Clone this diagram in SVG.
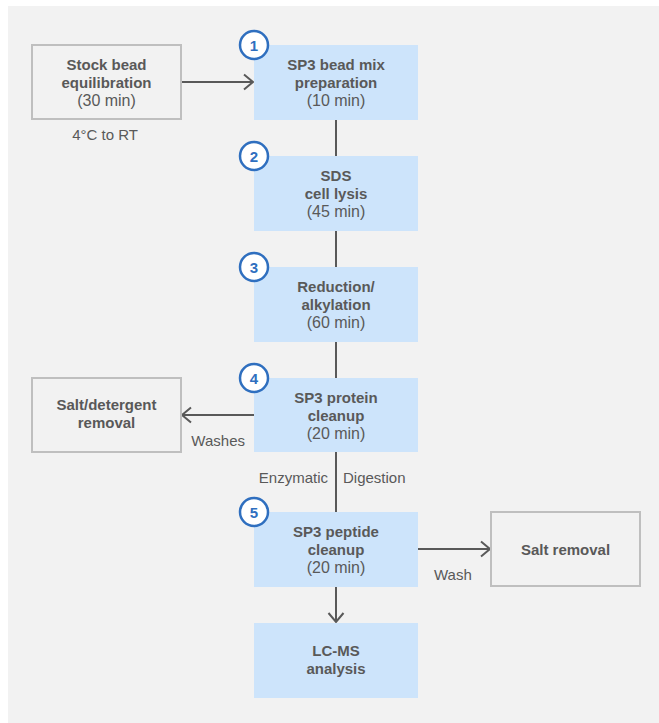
<svg xmlns="http://www.w3.org/2000/svg" width="659" height="723" viewBox="0 0 659 723">
<style>
text{font-family:"Liberation Sans",Arial,sans-serif;fill:#595959;text-anchor:middle}
.b{font-weight:bold;font-size:15px}
.r{font-size:15px}
.t{font-size:16px}
.step{fill:#cde4fb}
.side{fill:#f2f2f2;stroke:#bfbfbf;stroke-width:2}
.num circle{fill:#fff;stroke:#2f6fbf;stroke-width:2.5}
.num text{fill:#2f6fbf;font-weight:bold;font-size:15px}
.conn line{stroke:#595959;stroke-width:2}
</style>
<defs>
<marker id="ah" markerUnits="userSpaceOnUse" viewBox="0 0 12 18" refX="10" refY="9" markerWidth="12" markerHeight="18" orient="auto">
<path d="M1,1.5 L10,9 L1,16.5" fill="none" stroke="#595959" stroke-width="2"/>
</marker>
</defs>
<rect x="8" y="6" width="651" height="717" fill="#f2f2f2"/>
<g class="conn">
<line x1="181" y1="82" x2="253" y2="82" marker-end="url(#ah)"/>
<line x1="336" y1="120" x2="336" y2="156"/>
<line x1="336" y1="231" x2="336" y2="267"/>
<line x1="336" y1="342" x2="336" y2="378"/>
<line x1="336" y1="452" x2="336" y2="512"/>
<line x1="254" y1="415" x2="182" y2="415" marker-end="url(#ah)"/>
<line x1="418" y1="549" x2="490" y2="549" marker-end="url(#ah)"/>
<line x1="336" y1="587" x2="336" y2="622" marker-end="url(#ah)"/>
<text class="r" x="105" y="140">4°C to RT</text>
<text class="r" x="245" y="446" style="text-anchor:end">Washes</text>
<text class="r" x="328" y="483" style="text-anchor:end">Enzymatic</text>
<text class="r" x="343" y="483" style="text-anchor:start">Digestion</text>
<text class="r" x="434" y="580" style="text-anchor:start">Wash</text>
</g>
<g id="stock">
<rect class="side" x="32" y="45" width="149" height="74"/>
<text class="b" x="106.5" y="70">Stock bead</text>
<text class="b" x="106.5" y="88">equilibration</text>
<text class="t" x="106.5" y="106">(30 min)</text>
</g>
<g id="step1">
<rect class="step" x="254" y="45" width="164" height="75"/>
<text class="b" x="336" y="70">SP3 bead mix</text>
<text class="b" x="336" y="88">preparation</text>
<text class="t" x="336" y="106">(10 min)</text>
<g class="num"><circle cx="254" cy="45" r="14"/><text x="254" y="50.5">1</text></g>
</g>
<g id="step2">
<rect class="step" x="254" y="156" width="164" height="75"/>
<text class="b" x="336" y="181">SDS</text>
<text class="b" x="336" y="199">cell lysis</text>
<text class="t" x="336" y="217">(45 min)</text>
<g class="num"><circle cx="254" cy="156" r="14"/><text x="254" y="161.5">2</text></g>
</g>
<g id="step3">
<rect class="step" x="254" y="267" width="164" height="75"/>
<text class="b" x="336" y="292">Reduction/</text>
<text class="b" x="336" y="310">alkylation</text>
<text class="t" x="336" y="328">(60 min)</text>
<g class="num"><circle cx="254" cy="267" r="14"/><text x="254" y="272.5">3</text></g>
</g>
<g id="step4">
<rect class="step" x="254" y="378" width="164" height="74"/>
<text class="b" x="336" y="403">SP3 protein</text>
<text class="b" x="336" y="421">cleanup</text>
<text class="t" x="336" y="439">(20 min)</text>
<g class="num"><circle cx="254" cy="378" r="14"/><text x="254" y="383.5">4</text></g>
</g>
<g id="detergent">
<rect class="side" x="32" y="378" width="149" height="74"/>
<text class="b" x="106.5" y="410">Salt/detergent</text>
<text class="b" x="106.5" y="428">removal</text>
</g>
<g id="step5">
<rect class="step" x="254" y="512" width="164" height="75"/>
<text class="b" x="336" y="537">SP3 peptide</text>
<text class="b" x="336" y="555">cleanup</text>
<text class="t" x="336" y="573">(20 min)</text>
<g class="num"><circle cx="254" cy="512" r="14"/><text x="254" y="517.5">5</text></g>
</g>
<g id="saltremoval">
<rect class="side" x="491" y="512" width="149" height="74"/>
<text class="b" x="565.5" y="555">Salt removal</text>
</g>
<g id="lcms">
<rect class="step" x="254" y="623" width="164" height="75"/>
<text class="b" x="336" y="656">LC-MS</text>
<text class="b" x="336" y="674">analysis</text>
</g>
</svg>
